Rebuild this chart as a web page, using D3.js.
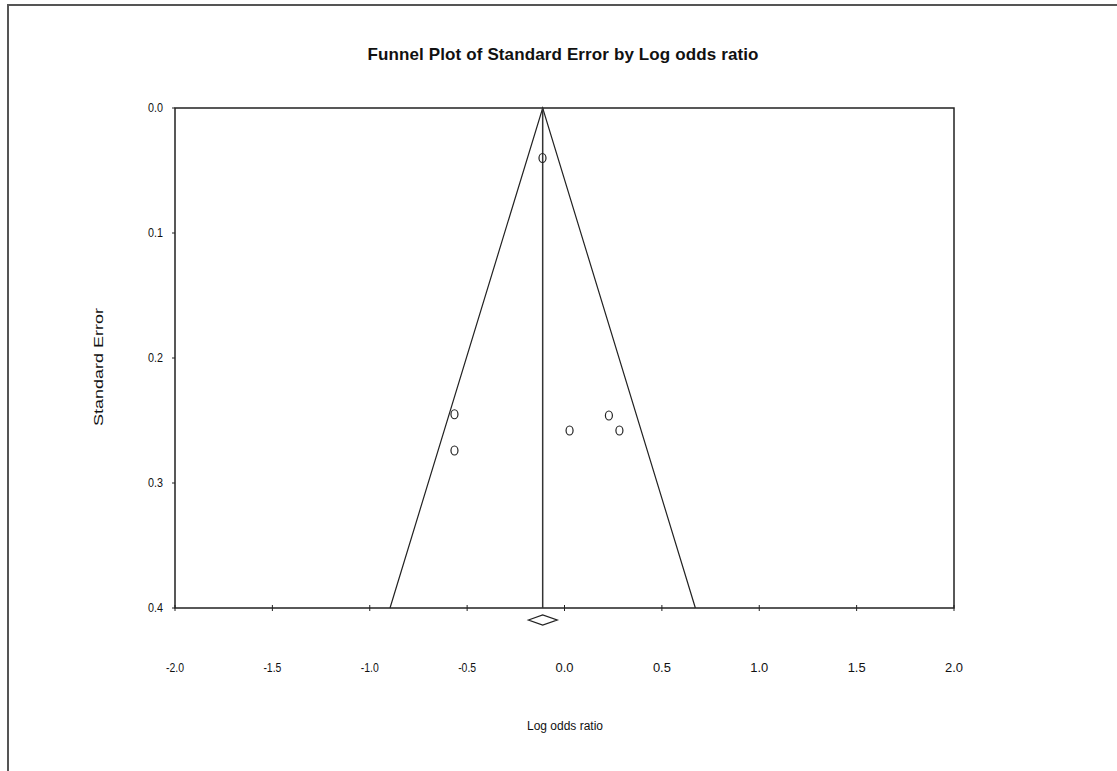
<!DOCTYPE html>
<html>
<head>
<meta charset="utf-8">
<script src="https://cdn.jsdelivr.net/npm/d3@7"></script>
<style>
  body { margin: 0; background: #fff; }
  svg text { font-family: "Liberation Sans Narrow", "Arial Narrow", "Liberation Sans", sans-serif; fill: #111; }
</style>
</head>
<body>
<svg width="1117" height="771"></svg>
<script>
// study points (log odds ratio, standard error)
const logOR = [-0.113, -0.565, -0.565, 0.026, 0.228, 0.282];
const stdErr = [0.040, 0.245, 0.274, 0.258, 0.246, 0.258];

// combined estimate and its CI (diamond)
const pooled = -0.112;
const pooledCI = [-0.185, -0.038];

const xTicks = [-2.0, -1.5, -1.0, -0.5, 0.0, 0.5, 1.0, 1.5, 2.0];
const yTicks = [0.0, 0.1, 0.2, 0.3, 0.4];

const margin = {top: 108, right: 163, bottom: 163, left: 175};
const width = 1117 - margin.left - margin.right;
const height = 771 - margin.top - margin.bottom;

const svg = d3.select("svg");

// outer frame
svg.append("path")
    .attr("d", "M8,1000 L8,5 L1200,5")
    .attr("fill", "none")
    .attr("stroke", "#555")
    .attr("stroke-width", 2);

const x = d3.scaleLinear().domain([-2, 2]).range([0, width]);
const y = d3.scaleLinear().domain([0, 0.4]).range([0, height]);

const g = svg.append("g").attr("transform", `translate(${margin.left},${margin.top})`);

// plot frame
g.append("rect")
    .attr("width", width).attr("height", height)
    .attr("fill", "none").attr("stroke", "#222").attr("stroke-width", 1.5);

// x ticks cross the bottom line, labels sit well below
g.selectAll(".xtick").data(xTicks).join("line")
    .attr("x1", d => x(d)).attr("x2", d => x(d))
    .attr("y1", height - 3).attr("y2", height + 3)
    .attr("stroke", "#222");
g.selectAll(".xlab").data(xTicks).join("text")
    .attr("class", "xlab")
    .attr("x", d => x(d)).attr("y", height + 64)
    .attr("text-anchor", "middle")
    .attr("font-size", 12)
    .attr("textLength", 18).attr("lengthAdjust", "spacingAndGlyphs")
    .text(d => d3.format(".1f")(d).replace("−", "-"));

// y ticks on the left
g.selectAll(".ytick").data(yTicks).join("line")
    .attr("x1", -3).attr("x2", 0)
    .attr("y1", d => y(d)).attr("y2", d => y(d))
    .attr("stroke", "#222");
g.selectAll(".ylab").data(yTicks).join("text")
    .attr("class", "ylab")
    .attr("x", -12).attr("y", d => y(d) + 4)
    .attr("text-anchor", "end")
    .attr("font-size", 12)
    .attr("textLength", 15).attr("lengthAdjust", "spacingAndGlyphs")
    .text(d => d3.format(".1f")(d));

// funnel: pooled +/- 1.96 * SE
const funnel = [[pooled - 1.96 * 0.4, 0.4], [pooled, 0], [pooled + 1.96 * 0.4, 0.4]];
g.append("path")
    .attr("d", d3.line().x(d => x(d[0])).y(d => y(d[1]))(funnel))
    .attr("fill", "none").attr("stroke", "#222").attr("stroke-width", 1.2);

// vertical line at pooled estimate
g.append("line")
    .attr("x1", x(pooled)).attr("x2", x(pooled))
    .attr("y1", 0).attr("y2", height)
    .attr("stroke", "#333").attr("stroke-width", 1.5);

// study points
g.selectAll(".pt").data(logOR).join("ellipse")
    .attr("cx", d => x(d))
    .attr("cy", (d, i) => y(stdErr[i]))
    .attr("rx", 3.5).attr("ry", 4.5)
    .attr("fill", "none").attr("stroke", "#222").attr("stroke-width", 1.2);

// diamond below the axis
const dy = height + 12;
g.append("path")
    .attr("d", `M${x(pooledCI[0])},${dy} L${x(pooled)},${dy - 5} L${x(pooledCI[1])},${dy} L${x(pooled)},${dy + 5} Z`)
    .attr("fill", "none").attr("stroke", "#222").attr("stroke-width", 1.3);

// titles
svg.append("text")
    .attr("x", 563).attr("y", 60)
    .attr("text-anchor", "middle")
    .attr("font-size", 17).attr("font-weight", "bold")
    .attr("textLength", 391).attr("lengthAdjust", "spacing")
    .text("Funnel Plot of Standard Error by Log odds ratio");

svg.append("text")
    .attr("x", 565).attr("y", 730)
    .attr("text-anchor", "middle")
    .attr("font-size", 12)
    .attr("textLength", 76).attr("lengthAdjust", "spacingAndGlyphs")
    .text("Log odds ratio");

svg.append("text")
    .attr("transform", "translate(103,367) rotate(-90)")
    .attr("text-anchor", "middle")
    .attr("font-size", 12)
    .attr("textLength", 118).attr("lengthAdjust", "spacingAndGlyphs")
    .text("Standard Error");
</script>
</body>
</html>
